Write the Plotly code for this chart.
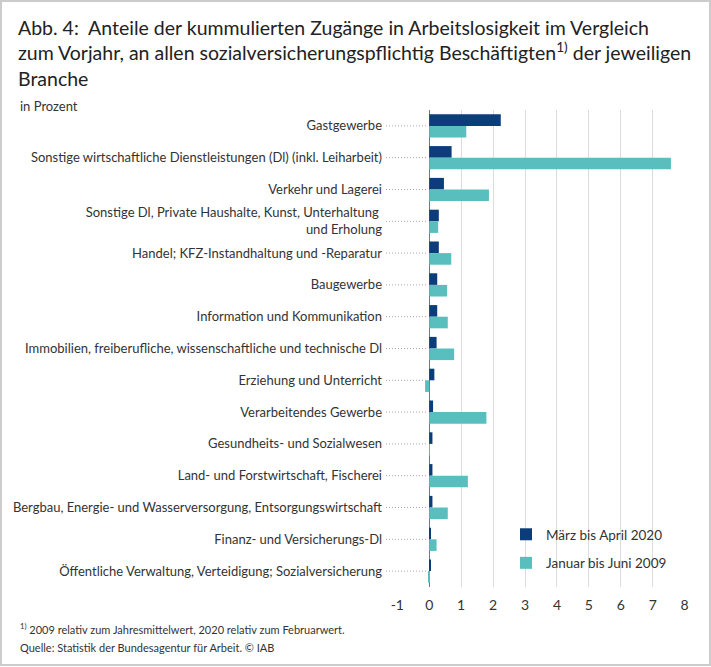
import plotly.graph_objects as go

categories = [
    "Gastgewerbe",
    "Sonstige wirtschaftliche Dienstleistungen (Dl) (inkl. Leiharbeit)",
    "Verkehr und Lagerei",
    "Sonstige Dl, Private Haushalte, Kunst, Unterhaltung <br>und Erholung",
    "Handel; KFZ-Instandhaltung und -Reparatur",
    "Baugewerbe",
    "Information und Kommunikation",
    "Immobilien, freiberufliche, wissenschaftliche und technische Dl",
    "Erziehung und Unterricht",
    "Verarbeitendes Gewerbe",
    "Gesundheits- und Sozialwesen",
    "Land- und Forstwirtschaft, Fischerei",
    "Bergbau, Energie- und Wasserversorgung, Entsorgungswirtschaft",
    "Finanz- und Versicherungs-Dl",
    "Öffentliche Verwaltung, Verteidigung; Sozialversicherung",
]
values_2020 = [2.24, 0.70, 0.46, 0.30, 0.30, 0.25, 0.25, 0.23, 0.16, 0.12, 0.10, 0.10, 0.10, 0.05, 0.03]
values_2009 = [1.16, 7.57, 1.87, 0.28, 0.69, 0.56, 0.58, 0.78, -0.13, 1.79, 0.01, 1.21, 0.58, 0.23, -0.02]
series_names = ["März bis April 2020", "Januar bis Juni 2009"]
x_ticks = [-1, 0, 1, 2, 3, 4, 5, 6, 7, 8]

W, H = 711, 667
L, R, T, B = 397, 26, 110, 80
FONT = "Lato"
TXT = "#333333"

fig = go.Figure()
fig.add_trace(go.Bar(y=categories, x=values_2020, orientation="h", name=series_names[0],
                     marker=dict(color="#0b3d7a", line=dict(width=0)), legendgroup="a"))
fig.add_trace(go.Bar(y=categories, x=values_2009, orientation="h", name=series_names[1],
                     marker=dict(color="#59bfbe", line=dict(width=0)), legendgroup="b"))

pw = W - L - R
ph = H - T - B
def px_x(p):
    return (p - L) / pw
def px_y(p):
    return (H - B - p) / ph

shapes = []
# dotted leader lines from labels to zero
for c in categories:
    shapes.append(dict(type="line", xref="paper", yref="y", x0=px_x(386), x1=px_x(428),
                       y0=c, y1=c, line=dict(color="#a8a8a8", width=1, dash="1px,2px"), layer="below"))
# outer border
shapes.append(dict(type="rect", xref="paper", yref="paper", x0=px_x(1), x1=px_x(W - 1),
                   y0=px_y(H - 2), y1=px_y(1), line=dict(color="#cccccc", width=2), fillcolor="rgba(0,0,0,0)"))

annotations = [
    dict(text="Abb. 4:  Anteile der kummulierten Zugänge in Arbeitslosigkeit im Vergleich<br>"
              "zum Vorjahr, an allen sozialversicherungspflichtig Beschäftigten<sup>1)</sup> der jeweiligen<br>Branche",
         xref="paper", yref="paper", x=px_x(16), y=px_y(14), xanchor="left", yanchor="top", align="left",
         showarrow=False, font=dict(size=19.5, color="#222222", family=FONT)),
    dict(text="in Prozent", xref="paper", yref="paper", x=px_x(18), y=px_y(96),
         xanchor="left", yanchor="top", showarrow=False, font=dict(size=13, color=TXT, family=FONT)),
    dict(text="<sup>1)</sup> 2009 relativ zum Jahresmittelwert, 2020 relativ zum Februarwert.",
         xref="paper", yref="paper", x=px_x(18), y=px_y(619), xanchor="left", yanchor="top",
         showarrow=False, font=dict(size=11, color=TXT, family=FONT)),
    dict(text="Quelle: Statistik der Bundesagentur für Arbeit. © IAB",
         xref="paper", yref="paper", x=px_x(18), y=px_y(639), xanchor="left", yanchor="top",
         showarrow=False, font=dict(size=11, color=TXT, family=FONT)),
]

fig.update_layout(
    width=W, height=H,
    margin=dict(l=L, r=R, t=T, b=B),
    paper_bgcolor="white", plot_bgcolor="white",
    font=dict(family=FONT, color=TXT, size=13),
    barmode="group", bargap=0.27, bargroupgap=0,
    xaxis=dict(range=[-1.01, 8.01], tickvals=x_ticks, ticktext=[str(v) for v in x_ticks],
               showgrid=True, gridcolor="#dcdcdc", gridwidth=1,
               zeroline=True, zerolinecolor="#6b7b8c", zerolinewidth=1, showline=False,
               tickfont=dict(size=14, color=TXT, family=FONT), ticks="", ticklabelstandoff=8),
    yaxis=dict(autorange="reversed", showgrid=False, zeroline=False, showline=False, ticks="",
               tickfont=dict(size=13, color=TXT, family=FONT), ticklabelstandoff=14),
    legend=dict(x=px_x(506), y=px_y(519), xanchor="left", yanchor="top", bgcolor="rgba(0,0,0,0)",
                font=dict(size=13.5, color=TXT, family=FONT), tracegroupgap=8, traceorder="grouped",
                itemwidth=30),
    shapes=shapes, annotations=annotations,
)

fig.write_html("out.html", config={"displayModeBar": False},
               post_script="document.body.style.margin='0';")
